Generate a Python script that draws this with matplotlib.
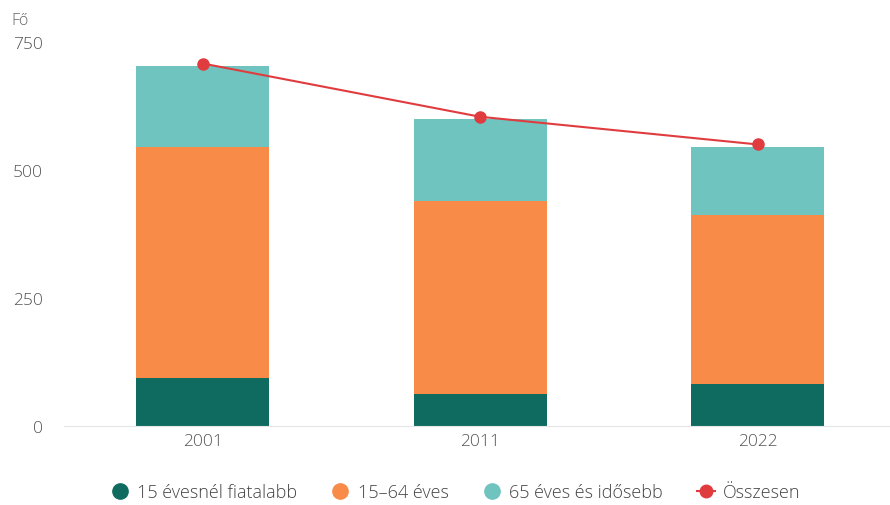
import matplotlib
matplotlib.use("Agg")
import matplotlib.pyplot as plt
import numpy as np
from matplotlib.lines import Line2D

years = ["2001", "2011", "2022"]
young = [94, 63, 82]        # 15 évesnél fiatalabb
working = [450, 377, 331]   # 15–64 éves
old = [160, 159, 132]       # 65 éves és idősebb
total = [708, 604, 550]     # Összesen
yticks = [0, 250, 500, 750]

c_young = "#0f6b60"
c_work = "#f98b48"
c_old = "#6fc4bf"
c_tot = "#e03c3f"

plt.rcParams['font.family'] = ['Open Sans', 'DejaVu Sans']
plt.rcParams['font.weight'] = 'light'

fig = plt.figure(figsize=(8.9, 5.06), dpi=100)
ax = fig.add_axes([0.072, 0.156, 0.935, 0.759])

x = np.arange(len(years))
w = 0.48
young_a = np.array(young)
work_a = np.array(working)
old_a = np.array(old)
ax.bar(x, young_a, w, color=c_young, zorder=2)
ax.bar(x, work_a, w, bottom=young_a, color=c_work, zorder=2)
ax.bar(x, old_a, w, bottom=young_a + work_a, color=c_old, zorder=2)
ax.plot(x, total, color=c_tot, lw=1.5, marker="o", markersize=8, zorder=3)

ax.set_xlim(-0.5, 2.5)
ax.set_ylim(0, 750)
ax.set_yticks(yticks)
ax.set_yticklabels([str(v) for v in yticks])
ax.set_xticks(x)
ax.set_xticklabels(years)
for s in ["top", "right", "left"]:
    ax.spines[s].set_visible(False)
ax.spines["bottom"].set_color("#e6e6e6")
ax.tick_params(axis="both", length=0, colors="#555555", labelsize=12.5)
ax.tick_params(axis="y", pad=15)
ax.tick_params(axis="x", pad=5)

fig.text(0.013, 0.958, "Fő", fontsize=11.5, color="#666666", ha="left", va="center")

hs = [Line2D([], [], marker="o", ls="none", color=c_young, markersize=11),
      Line2D([], [], marker="o", ls="none", color=c_work, markersize=11),
      Line2D([], [], marker="o", ls="none", color=c_old, markersize=11),
      Line2D([], [], marker="o", ls="-", lw=1.5, color=c_tot, markersize=9)]
fig.legend(hs, ["15 évesnél fiatalabb", "15–64 éves", "65 éves és idősebb", "Összesen"],
           loc="center", bbox_to_anchor=(0.512, 0.026), ncol=4, frameon=False,
           fontsize=13, handlelength=1.0, handletextpad=0.45, columnspacing=1.9,
           labelcolor="#444444")

fig.savefig("out.png", dpi=100)
